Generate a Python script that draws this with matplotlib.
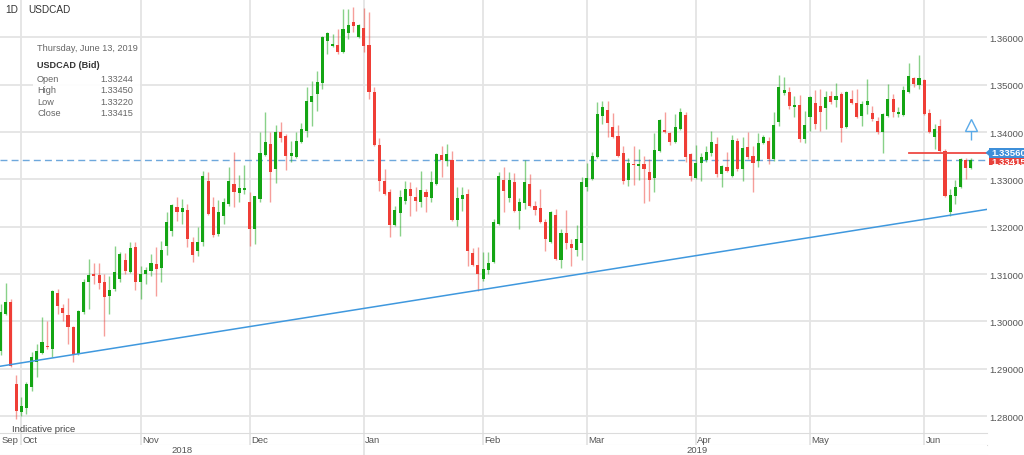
import numpy as np
import matplotlib
matplotlib.use("Agg")
import matplotlib.pyplot as plt
from matplotlib.patches import Rectangle, Polygon

plt.rcParams['font.family'] = ['Liberation Sans', 'DejaVu Sans']

# USDCAD (Bid), daily candles, late Sep 2018 -> Jun 13 2019
opens = [
    1.2937, 1.3016, 1.3041, 1.2868, 1.2808, 1.2817, 1.2861, 1.2914, 1.2933, 1.2948,
    1.2942, 1.3060, 1.3028, 1.3014, 1.2988, 1.2931, 1.3020, 1.3083, 1.3100, 1.3098,
    1.3083, 1.3054, 1.3069, 1.3090, 1.3130, 1.3104, 1.3157, 1.3083, 1.3100, 1.3107,
    1.3121, 1.3113, 1.3159, 1.3191, 1.3242, 1.3231, 1.3235, 1.3168, 1.3149, 1.3168,
    1.3297, 1.3242, 1.3185, 1.3223, 1.3248, 1.3290, 1.3271, 1.3278, 1.3252, 1.3195,
    1.3259, 1.3351, 1.3375, 1.3322, 1.3400, 1.3392, 1.3349, 1.3347, 1.3379, 1.3402,
    1.3463, 1.3480, 1.3503, 1.3592, 1.3582, 1.3584, 1.3569, 1.3609, 1.3632, 1.3601,
    1.3620, 1.3584, 1.3484, 1.3373, 1.3297, 1.3273, 1.3204, 1.3229, 1.3254, 1.3280,
    1.3263, 1.3252, 1.3273, 1.3261, 1.3290, 1.3351, 1.3339, 1.3341, 1.3214, 1.3259,
    1.3269, 1.3145, 1.3119, 1.3090, 1.3109, 1.3126, 1.3206, 1.3299, 1.3261, 1.3294,
    1.3233, 1.3250, 1.3290, 1.3244, 1.3240, 1.3210, 1.3168, 1.3225, 1.3130, 1.3187,
    1.3164, 1.3151, 1.3166, 1.3284, 1.3301, 1.3347, 1.3434, 1.3446, 1.3411, 1.3392,
    1.3356, 1.3299, 1.3332, 1.3328, 1.3332, 1.3316, 1.3303, 1.3360, 1.3404, 1.3398,
    1.3379, 1.3406, 1.3436, 1.3354, 1.3303, 1.3335, 1.3341, 1.3356, 1.3375, 1.3311,
    1.3326, 1.3307, 1.3381, 1.3322, 1.3368, 1.3349, 1.3339, 1.3377, 1.3381, 1.3343,
    1.3421, 1.3482, 1.3484, 1.3453, 1.3457, 1.3385, 1.3432, 1.3461, 1.3455, 1.3451,
    1.3476, 1.3468, 1.3480, 1.3411, 1.3470, 1.3461, 1.3434, 1.3457, 1.3440, 1.3423,
    1.3400, 1.3434, 1.3470, 1.3438, 1.3436, 1.3484, 1.3514, 1.3499, 1.3510, 1.3440,
    1.3389, 1.3413, 1.3360, 1.3231, 1.3265, 1.3284, 1.3341, 1.33244,
]
highs = [
    1.3037, 1.3081, 1.3047, 1.2887, 1.2840, 1.2872, 1.2935, 1.2952, 1.3009, 1.3001,
    1.3066, 1.3069, 1.3037, 1.3050, 1.2990, 1.3024, 1.3090, 1.3132, 1.3123, 1.3123,
    1.3100, 1.3096, 1.3159, 1.3147, 1.3145, 1.3168, 1.3168, 1.3117, 1.3115, 1.3142,
    1.3157, 1.3170, 1.3231, 1.3248, 1.3263, 1.3259, 1.3248, 1.3178, 1.3199, 1.3318,
    1.3316, 1.3263, 1.3256, 1.3261, 1.3326, 1.3358, 1.3309, 1.3330, 1.3273, 1.3265,
    1.3400, 1.3442, 1.3400, 1.3415, 1.3421, 1.3396, 1.3381, 1.3400, 1.3419, 1.3495,
    1.3508, 1.3529, 1.3603, 1.3611, 1.3607, 1.3617, 1.3660, 1.3660, 1.3664, 1.3628,
    1.3662, 1.3653, 1.3495, 1.3387, 1.3322, 1.3280, 1.3244, 1.3278, 1.3297, 1.3294,
    1.3284, 1.3318, 1.3280, 1.3318, 1.3356, 1.3370, 1.3375, 1.3360, 1.3284, 1.3284,
    1.3280, 1.3155, 1.3157, 1.3147, 1.3147, 1.3216, 1.3316, 1.3326, 1.3316, 1.3313,
    1.3261, 1.3341, 1.3311, 1.3254, 1.3280, 1.3216, 1.3233, 1.3237, 1.3195, 1.3235,
    1.3174, 1.3204, 1.3305, 1.3335, 1.3358, 1.3463, 1.3465, 1.3465, 1.3440, 1.3415,
    1.3370, 1.3345, 1.3370, 1.3364, 1.3349, 1.3343, 1.3398, 1.3427, 1.3442, 1.3400,
    1.3438, 1.3451, 1.3442, 1.3356, 1.3373, 1.3356, 1.3370, 1.3402, 1.3389, 1.3330,
    1.3358, 1.3394, 1.3387, 1.3389, 1.3400, 1.3370, 1.3398, 1.3394, 1.3389, 1.3442,
    1.3520, 1.3516, 1.3495, 1.3476, 1.3478, 1.3444, 1.3476, 1.3489, 1.3491, 1.3487,
    1.3487, 1.3503, 1.3484, 1.3486, 1.3489, 1.3491, 1.3465, 1.3512, 1.3455, 1.3432,
    1.3440, 1.3501, 1.3480, 1.3453, 1.3497, 1.3546, 1.3516, 1.3563, 1.3512, 1.3449,
    1.3417, 1.3427, 1.3364, 1.3280, 1.3299, 1.3345, 1.3345, 1.33450,
]
lows = [
    1.2929, 1.3014, 1.2904, 1.2794, 1.2800, 1.2804, 1.2853, 1.2882, 1.2931, 1.2942,
    1.2925, 1.3016, 1.3001, 1.2952, 1.2914, 1.2929, 1.3016, 1.3026, 1.3079, 1.3069,
    1.2969, 1.3016, 1.3064, 1.3083, 1.3100, 1.3102, 1.3066, 1.3047, 1.3079, 1.3096,
    1.3054, 1.3083, 1.3140, 1.3180, 1.3212, 1.3206, 1.3157, 1.3126, 1.3138, 1.3159,
    1.3225, 1.3178, 1.3180, 1.3206, 1.3244, 1.3242, 1.3252, 1.3269, 1.3159, 1.3164,
    1.3252, 1.3349, 1.3252, 1.3292, 1.3379, 1.3320, 1.3337, 1.3345, 1.3377, 1.3389,
    1.3413, 1.3444, 1.3491, 1.3565, 1.3580, 1.3565, 1.3567, 1.3596, 1.3611, 1.3599,
    1.3569, 1.3470, 1.3370, 1.3275, 1.3267, 1.3178, 1.3202, 1.3180, 1.3248, 1.3223,
    1.3233, 1.3242, 1.3231, 1.3252, 1.3288, 1.3305, 1.3328, 1.3212, 1.3202, 1.3233,
    1.3117, 1.3117, 1.3064, 1.3085, 1.3100, 1.3123, 1.3204, 1.3231, 1.3252, 1.3231,
    1.3195, 1.3237, 1.3242, 1.3225, 1.3208, 1.3149, 1.3166, 1.3130, 1.3113, 1.3153,
    1.3117, 1.3138, 1.3130, 1.3275, 1.3299, 1.3345, 1.3417, 1.3389, 1.3387, 1.3347,
    1.3290, 1.3286, 1.3288, 1.3299, 1.3250, 1.3254, 1.3273, 1.3358, 1.3398, 1.3373,
    1.3377, 1.3404, 1.3337, 1.3297, 1.3301, 1.3297, 1.3337, 1.3349, 1.3305, 1.3284,
    1.3316, 1.3305, 1.3318, 1.3297, 1.3343, 1.3273, 1.3326, 1.3375, 1.3332, 1.3339,
    1.3413, 1.3478, 1.3449, 1.3432, 1.3379, 1.3377, 1.3402, 1.3406, 1.3402, 1.3406,
    1.3459, 1.3453, 1.3379, 1.3409, 1.3459, 1.3430, 1.3413, 1.3438, 1.3423, 1.3396,
    1.3356, 1.3432, 1.3432, 1.3432, 1.3434, 1.3482, 1.3495, 1.3491, 1.3436, 1.3398,
    1.3364, 1.3358, 1.3263, 1.3223, 1.3248, 1.3282, 1.3301, 1.33220,
]
closes = [
    1.3020, 1.3041, 1.2906, 1.2811, 1.2821, 1.2868, 1.2925, 1.2937, 1.2957, 1.2946,
    1.3064, 1.3033, 1.3018, 1.2988, 1.2931, 1.3022, 1.3083, 1.3098, 1.3096, 1.3081,
    1.3052, 1.3066, 1.3104, 1.3142, 1.3107, 1.3155, 1.3083, 1.3100, 1.3109, 1.3123,
    1.3111, 1.3151, 1.3210, 1.3246, 1.3231, 1.3240, 1.3174, 1.3140, 1.3168, 1.3307,
    1.3227, 1.3183, 1.3231, 1.3252, 1.3297, 1.3273, 1.3282, 1.3282, 1.3195, 1.3265,
    1.3356, 1.3379, 1.3316, 1.3400, 1.3387, 1.3349, 1.3356, 1.3381, 1.3406, 1.3465,
    1.3476, 1.3506, 1.3601, 1.3609, 1.3586, 1.3569, 1.3617, 1.3626, 1.3624, 1.3626,
    1.3582, 1.3484, 1.3373, 1.3297, 1.3269, 1.3204, 1.3235, 1.3263, 1.3280, 1.3265,
    1.3254, 1.3278, 1.3263, 1.3294, 1.3354, 1.3341, 1.3354, 1.3214, 1.3261, 1.3267,
    1.3149, 1.3119, 1.3100, 1.3111, 1.3123, 1.3210, 1.3307, 1.3275, 1.3299, 1.3233,
    1.3252, 1.3294, 1.3244, 1.3235, 1.3210, 1.3174, 1.3231, 1.3132, 1.3187, 1.3166,
    1.3155, 1.3174, 1.3294, 1.3303, 1.3349, 1.3438, 1.3453, 1.3419, 1.3389, 1.3349,
    1.3297, 1.3335, 1.3330, 1.3332, 1.3322, 1.3299, 1.3362, 1.3425, 1.3400, 1.3379,
    1.3411, 1.3442, 1.3347, 1.3307, 1.3335, 1.3347, 1.3358, 1.3379, 1.3311, 1.3328,
    1.3318, 1.3383, 1.3322, 1.3366, 1.3347, 1.3335, 1.3377, 1.3389, 1.3343, 1.3415,
    1.3495, 1.3489, 1.3455, 1.3457, 1.3385, 1.3415, 1.3474, 1.3417, 1.3442, 1.3474,
    1.3463, 1.3476, 1.3408, 1.3484, 1.3461, 1.3432, 1.3459, 1.3465, 1.3427, 1.3400,
    1.3438, 1.3470, 1.3442, 1.3442, 1.3489, 1.3518, 1.3501, 1.3514, 1.3438, 1.3400,
    1.3406, 1.3360, 1.3265, 1.3267, 1.3284, 1.3343, 1.3324, 1.33415,
]

# first candle of each month (candle index) and labels
month_labels = ['Oct', 'Nov', 'Dec', 'Jan', 'Feb', 'Mar', 'Apr', 'May', 'Jun']
month_start = [4, 27, 48, 70, 93, 113, 134, 156, 178]
year_labels = ['2018', '2019']
price_levels = [1.28, 1.29, 1.30, 1.31, 1.32, 1.33, 1.34, 1.35, 1.36]

# drawings on the chart
trend_pts = [(0, 1.29054), (187, 1.32312)]
last_close = 1.33415
resist_level = 1.33560
resist_from = 175
arrow_tip, arrow_tail = 1.3423, 1.3383

info_rows = [('Open', '1.33244'), ('High', '1.33450'), ('Low', '1.33220'), ('Close', '1.33415')]

GREEN = '#14a514'
RED = '#ef3e36'
GRID = '#e4e4e4'
TXT = '#555555'

W, H = 1024, 456
def fx(px):
    return px / W
def fy(py):
    return 1 - py / H

fig = plt.figure(figsize=(W / 100, H / 100), dpi=100)
ax = fig.add_axes([0, fy(434), fx(987), 434 / H])
ax.set_xlim(-0.1, 190.1)
ax.set_ylim(1.27643, 1.36809)
for s in ax.spines.values():
    s.set_visible(False)

o = np.array(opens); h = np.array(highs); l = np.array(lows); c = np.array(closes)
x = np.arange(len(o))
up = c >= o
bot = np.minimum(o, c)
hgt = np.maximum(np.abs(c - o), 0.00004)

ax.vlines(x[up], l[up], h[up], color=GREEN, alpha=0.5, lw=1, zorder=3)
ax.vlines(x[~up], l[~up], h[~up], color=RED, alpha=0.5, lw=1, zorder=3)
ax.bar(x[up], hgt[up], bottom=bot[up], width=0.6, color=GREEN, lw=0, zorder=4)
ax.bar(x[~up], hgt[~up], bottom=bot[~up], width=0.6, color=RED, lw=0, zorder=4)

ax.set_xticks(month_start)
ax.set_yticks(price_levels)
ax.set_yticklabels(['%.5f' % v for v in price_levels])
ax.yaxis.tick_right()
ax.tick_params(axis='y', length=0, pad=2, labelsize=6.8, labelcolor=TXT)
ax.tick_params(axis='x', length=0, labelbottom=False)
ax.grid(True, color=GRID, lw=1.3, zorder=0)
ax.set_axisbelow(True)

ax.axline(trend_pts[0], trend_pts[1], color='#3f98de', lw=1.1, zorder=5)
ax.axhline(last_close, color='#6ea8dc', lw=1, dashes=(5, 3), zorder=2)
xmin, xmax = ax.get_xlim()
ax.axhline(resist_level, xmin=(resist_from - xmin) / (xmax - xmin), xmax=1,
           color='#ee4a44', lw=1.3, zorder=5)
ax.vlines(x[-1], arrow_tail, (arrow_tip + arrow_tail) / 2 + 0.0001, color='#5aaae8', lw=1, zorder=6)
ax.plot(x[-1], arrow_tip - 0.0009, marker='^', ms=8, mfc='white', mec='#5aaae8', mew=1, zorder=7)

# month row
mx = fig.add_axes([0, fy(445.5), fx(987), 11.5 / H])
mx.set_xlim(xmin, xmax)
mx.set_ylim(0, 1)
mx.set_xticks([]); mx.set_yticks([])
for k, s in mx.spines.items():
    s.set_visible(k in ('top', 'bottom'))
    s.set_color('#dcdcdc')
for p, lab in zip(month_start, month_labels):
    mx.axvline(p, color=GRID, lw=1.3)
    mx.text(p + 0.25, 0.45, lab, ha='left', va='center', fontsize=6.8, color=TXT)
mx.text(xmin + 0.35, 0.45, 'Sep', ha='left', va='center', fontsize=6.8, color=TXT)

# year row
yx = fig.add_axes([0, 0, fx(987), 10.5 / H])
yx.set_xlim(xmin, xmax)
yx.set_ylim(0, 1)
yx.set_xticks([]); yx.set_yticks([])
for k, s in yx.spines.items():
    s.set_visible(k == 'bottom')
    s.set_color('#dcdcdc')
jan = month_start[3]
yx.axvline(jan, color=GRID, lw=1.3)
yx.text((xmin + jan) / 2, 0.5, year_labels[0], ha='center', va='center', fontsize=6.8, color=TXT)
yx.text(134.2, 0.5, year_labels[1], ha='center', va='center', fontsize=6.8, color=TXT)

# header
fig.text(fx(5), fy(10), '1D', ha='left', va='center', fontsize=7.2, color='#333333')
fig.text(fx(28), fy(10), 'USDCAD', ha='left', va='center', fontsize=7.2, color='#333333')

# info box
fig.patches.append(Rectangle((fx(33), fy(125)), fx(140) - fx(33), 85 / H, transform=fig.transFigure,
                             facecolor='white', edgecolor='none', alpha=0.93))
fig.text(fx(37), fy(49), 'Thursday, June 13, 2019', ha='left', va='center', fontsize=6.6, color='#666666')
fig.text(fx(37), fy(66), 'USDCAD (Bid)', ha='left', va='center', fontsize=6.6, color='#333333', weight='bold')
for k, (name, val) in enumerate(info_rows):
    yy = 79.5 + k * 11.3
    fig.text(fx(37), fy(yy), name, ha='left', va='center', fontsize=6.6, color='#666666')
    fig.text(fx(133), fy(yy), val, ha='right', va='center', fontsize=6.6, color='#666666')

fig.text(fx(12), fy(430), 'Indicative price', ha='left', va='center', fontsize=6.8, color='#444444')

# price tags at the right
fig.patches.append(Rectangle((fx(989), fy(166)), fx(1024) - fx(989), 8.5 / H, transform=fig.transFigure,
                             facecolor='#e8413b', edgecolor='none'))
fig.text(fx(991), fy(162.5), '1.33415', ha='left', va='center', fontsize=6.8, color='white', weight='bold')
fig.patches.append(Rectangle((fx(989), fy(158.5)), fx(1024) - fx(989), 10 / H, transform=fig.transFigure,
                             facecolor='#3d8fd9', edgecolor='none', zorder=4))
fig.patches.append(Polygon([(fx(985.5), fy(153.8)), (fx(989.2), fy(150.5)), (fx(989.2), fy(157))],
                           closed=True, transform=fig.transFigure, facecolor='#3d8fd9', edgecolor='none', zorder=4))
fig.text(fx(991), fy(153.6), '1.33560', ha='left', va='center', fontsize=6.8, color='white', weight='bold', zorder=5)

fig.savefig('out.png', dpi=100, facecolor='white')
